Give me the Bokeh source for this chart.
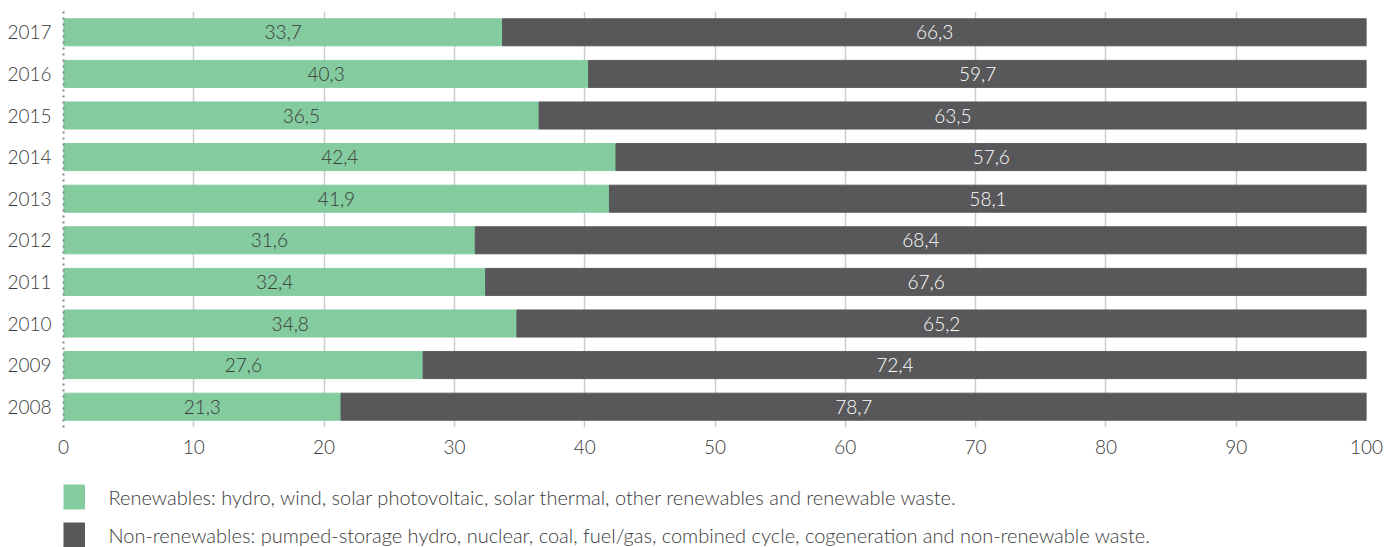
from bokeh.plotting import figure
from bokeh.models import ColumnDataSource, FixedTicker
from bokeh.layouts import column
from bokeh.core.properties import value
from bokeh.embed import file_html
from bokeh.resources import INLINE

years = ["2008", "2009", "2010", "2011", "2012", "2013", "2014", "2015", "2016", "2017"]
renewables = [21.3, 27.6, 34.8, 32.4, 31.6, 41.9, 42.4, 36.5, 40.3, 33.7]
non_renewables = [78.7, 72.4, 65.2, 67.6, 68.4, 58.1, 57.6, 63.5, 59.7, 66.3]
x_ticks = [0, 10, 20, 30, 40, 50, 60, 70, 80, 90, 100]
legend_labels = [
    "Renewables: hydro, wind, solar photovoltaic, solar thermal, other renewables and renewable waste.",
    "Non-renewables: pumped-storage hydro, nuclear, coal, fuel/gas, combined cycle, cogeneration and non-renewable waste.",
]

GREEN = "#84cb9f"
DARK = "#58585a"
FONT = "Lato Light, Lato"
TXT = "#3a3a3a"

ypos = list(range(len(years)))
src = ColumnDataSource(dict(
    y=ypos,
    r=renewables,
    n=non_renewables,
    total=[a + b for a, b in zip(renewables, non_renewables)],
    rmid=[a / 2 for a in renewables],
    nmid=[a + b / 2 for a, b in zip(renewables, non_renewables)],
    rlab=[f"{v:.1f}".replace(".", ",") for v in renewables],
    nlab=[f"{v:.1f}".replace(".", ",") for v in non_renewables],
))

p = figure(width=1393, height=470, output_backend="svg", toolbar_location=None,
           x_range=(0, 100), y_range=(-0.5, len(years) - 0.5),
           min_border_left=63, min_border_right=27, min_border_top=11, min_border_bottom=43)
p.outline_line_color = None
p.background_fill_color = "white"

p.hbar(y="y", left=0, right="r", height=0.65, color=GREEN, source=src)
p.hbar(y="y", left="r", right="total", height=0.65, color=DARK, source=src)

p.text(x="rmid", y="y", text="rlab", source=src, text_align="center", text_baseline="middle",
       text_font=value(FONT), text_font_size="19px", text_color=TXT)
p.text(x="nmid", y="y", text="nlab", source=src, text_align="center", text_baseline="middle",
       text_font=value(FONT), text_font_size="19px", text_color="white")

# axes
p.xaxis.ticker = FixedTicker(ticks=x_ticks)
p.xaxis.axis_line_color = None
p.xaxis.major_tick_line_color = None
p.xaxis.major_tick_out = 0
p.xaxis.major_tick_in = 0
p.xaxis.minor_tick_line_color = None
p.xaxis.major_label_text_font = FONT
p.xaxis.major_label_text_font_size = "19px"
p.xaxis.major_label_text_color = TXT
p.xaxis.major_label_standoff = 12

p.yaxis.ticker = FixedTicker(ticks=ypos)
p.yaxis.major_label_overrides = {i: y for i, y in enumerate(years)}
p.yaxis.axis_line_color = "#888888"
p.yaxis.axis_line_dash = "dotted"
p.yaxis.axis_line_width = 2
p.yaxis.major_tick_line_color = None
p.yaxis.major_tick_out = 0
p.yaxis.major_tick_in = 0
p.yaxis.minor_tick_line_color = None
p.yaxis.major_label_text_font = FONT
p.yaxis.major_label_text_font_size = "19px"
p.yaxis.major_label_text_color = TXT
p.yaxis.major_label_standoff = 12

p.xgrid.grid_line_color = "#cccccc"
p.xgrid.grid_line_width = 1.5
p.ygrid.grid_line_color = None

# legend strip (pixel-like coordinates; its frame is aligned with the chart frame at x=63)
lg = figure(width=1393, height=77, output_backend="svg", toolbar_location=None,
            x_range=(0, 1303), y_range=(0, 77), min_border=0,
            min_border_left=63, min_border_right=27,
            x_axis_type=None, y_axis_type=None, outline_line_color=None)
lg.grid.visible = False
leg_src = ColumnDataSource(dict(
    x=[9, 9], y=[50.5, 12.5], tx=[45, 45], color=[GREEN, DARK], label=legend_labels))
lg.rect(x="x", y="y", width=24, height=24, color="color", source=leg_src)
lg.text(x="tx", y="y", text="label", source=leg_src, text_align="left", text_baseline="middle",
        text_font=value(FONT), text_font_size="20px", text_color=TXT)

open("out.html", "w").write(file_html(column(p, lg), INLINE))
